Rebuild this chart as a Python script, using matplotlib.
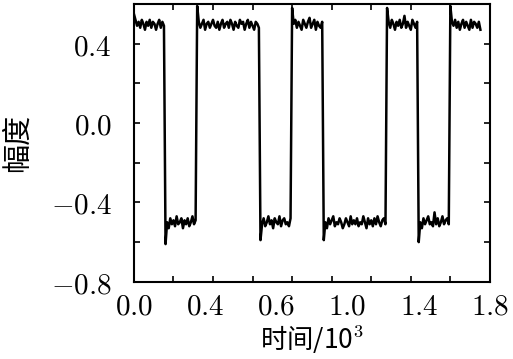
import numpy as np
import matplotlib
matplotlib.use('Agg')
import matplotlib.pyplot as plt
from matplotlib.ticker import MultipleLocator, FixedLocator

plt.rcParams['mathtext.fontset'] = 'cm'
plt.rcParams['font.family'] = ['Noto Sans CJK SC', 'DejaVu Sans']

# sampled signal, dt = 0.008 (x10^3), 20 samples per bit
dt = 0.008
h1 = [0.55, 0.52, 0.49, 0.51, 0.48, 0.52, 0.50, 0.47, 0.51, 0.49,
      0.52, 0.48, 0.51, 0.50, 0.47, 0.50, 0.52, 0.48, 0.51, 0.49]
l1 = [-0.61, -0.50, -0.53, -0.48, -0.51, -0.49, -0.52, -0.47, -0.51, -0.50,
      -0.48, -0.53, -0.49, -0.51, -0.48, -0.52, -0.50, -0.47, -0.51, -0.49]
h2 = [0.59, 0.51, 0.48, 0.50, 0.52, 0.47, 0.50, 0.51, 0.48, 0.50,
      0.52, 0.49, 0.48, 0.51, 0.47, 0.50, 0.52, 0.48, 0.50, 0.51,
      0.48, 0.52, 0.50, 0.47, 0.51, 0.49, 0.48, 0.52, 0.50, 0.51,
      0.47, 0.50, 0.52, 0.48, 0.51, 0.49, 0.47, 0.51, 0.50, 0.48]
l2 = [-0.59, -0.51, -0.48, -0.52, -0.50, -0.47, -0.51, -0.49, -0.53, -0.48,
      -0.50, -0.51, -0.47, -0.52, -0.49, -0.48, -0.51, -0.50, -0.52, -0.48]
h3 = [0.58, 0.50, 0.52, 0.48, 0.51, 0.49, 0.47, 0.52, 0.50, 0.48,
      0.51, 0.53, 0.48, 0.50, 0.52, 0.47, 0.51, 0.49, 0.48, 0.51]
l3 = [-0.59, -0.50, -0.53, -0.48, -0.51, -0.49, -0.47, -0.52, -0.50, -0.51,
      -0.48, -0.50, -0.53, -0.51, -0.48, -0.50, -0.52, -0.47, -0.51, -0.49,
      -0.51, -0.48, -0.52, -0.50, -0.51, -0.47, -0.50, -0.53, -0.48, -0.51,
      -0.49, -0.52, -0.48, -0.51, -0.47, -0.50, -0.52, -0.49, -0.48, -0.51]
h4 = [0.58, 0.51, 0.48, 0.52, 0.50, 0.47, 0.51, 0.49, 0.52, 0.48,
      0.50, 0.54, 0.48, 0.51, 0.49, 0.47, 0.52, 0.50, 0.48, 0.51]
l4 = [-0.60, -0.50, -0.53, -0.48, -0.51, -0.49, -0.47, -0.51, -0.50, -0.52,
      -0.45, -0.51, -0.48, -0.52, -0.50, -0.47, -0.51, -0.49, -0.48, -0.51]
h5 = [0.59, 0.51, 0.49, 0.52, 0.48, 0.51, 0.47, 0.50, 0.52, 0.48,
      0.51, 0.49, 0.47, 0.52, 0.48, 0.51, 0.50, 0.48, 0.51, 0.47]

signal = np.array(h1 + l1 + h2 + l2 + h3 + l3 + h4 + l4 + h5)
t = np.arange(len(signal)) * dt

xlabel_pos = [0.0, 0.36, 0.72, 1.08, 1.44, 1.8]
xlabel_txt = ['0.0', '0.4', '0.6', '1.0', '1.4', '1.8']
yticks = [-0.8, -0.4, 0.0, 0.4]
ytick_txt = ['-0.8', '-0.4', '0.0', '0.4']

fig = plt.figure(figsize=(5.13, 3.59), dpi=100)
ax = fig.add_axes([0.261, 0.215, 0.694, 0.774])
ax.plot(t, signal, color='black', lw=1.8)

ax.set_xlim(0, 1.8)
ax.set_ylim(-0.8, 0.6)

ax.xaxis.set_major_locator(FixedLocator(xlabel_pos))
ax.set_xticklabels(['$%s$' % s for s in xlabel_txt])
ax.xaxis.set_minor_locator(MultipleLocator(0.2))
ax.set_yticks(yticks)
ax.set_yticklabels(['$%s$' % s for s in ytick_txt])
ax.yaxis.set_minor_locator(MultipleLocator(0.2))

ax.tick_params(axis='x', which='major', length=0, pad=7, labelsize=21)
ax.tick_params(axis='y', which='major', direction='in', length=4, width=1.2,
               right=True, pad=16, labelsize=21)
ax.tick_params(which='minor', direction='in', length=4, width=1.2,
               top=True, right=True)
for sp in ax.spines.values():
    sp.set_linewidth(1.5)

ax.set_xlabel('时间/10$^3$', fontsize=19, labelpad=1)
ax.set_ylabel('幅度', fontsize=21, labelpad=13)

fig.savefig('out.png', dpi=100)
